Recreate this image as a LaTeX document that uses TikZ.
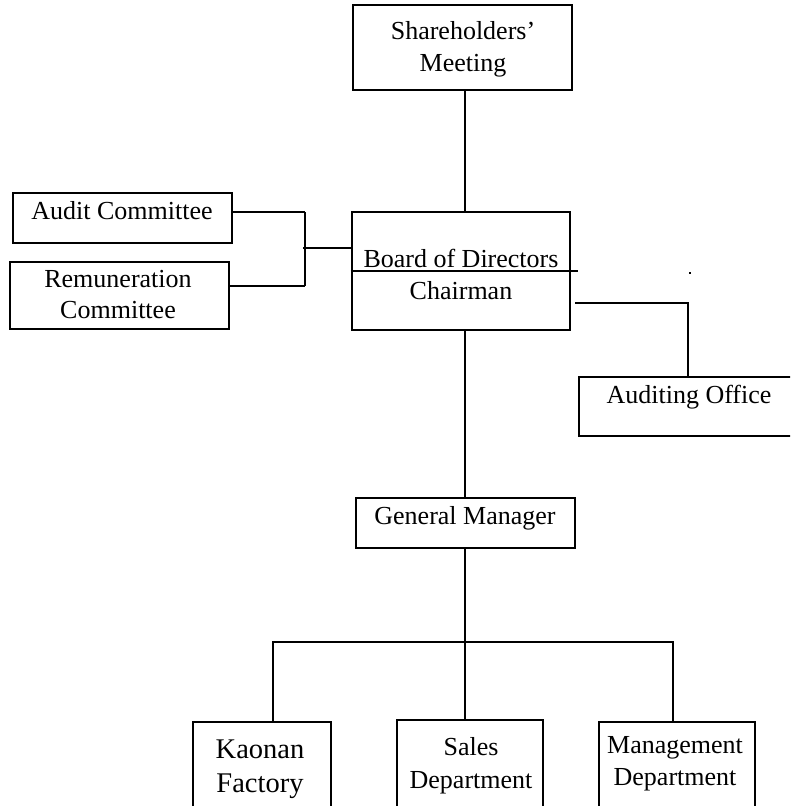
\documentclass[tikz,border=0pt]{standalone}
\usepackage{fontspec}
\setmainfont{Liberation Serif}
\begin{document}
\begin{tikzpicture}[x=1pt,y=-1pt,
  box/.style={draw, line width=2.8pt, rectangle, inner sep=0pt, fill=none},
  txt/.style={anchor=base, inner sep=0pt, font=\fontsize{26}{31}\selectfont},
  bigtxt/.style={anchor=base, inner sep=0pt, font=\fontsize{28.5}{34}\selectfont},
  conn/.style={line width=1.9pt}]
\clip (0,0) rectangle (790,806);
\useasboundingbox (0,0) rectangle (790,806);
\fill[white] (0,0) rectangle (790,806);
% boxes
\node[box, minimum width=219pt, minimum height=85pt] (share) at (462.5,47.5) {};
\node[box, minimum width=218pt, minimum height=118pt] (board) at (461,271) {};
\node[box, minimum width=219pt, minimum height=50pt] (audit) at (122.5,218) {};
\node[box, minimum width=219pt, minimum height=67pt] (remun) at (119.5,295.5) {};
\node[box, minimum width=230pt, minimum height=59pt] (audoff) at (694,406.5) {};
\node[box, minimum width=219pt, minimum height=50pt] (gm) at (465.5,523) {};
\node[box, minimum width=138pt, minimum height=110pt] (kaonan) at (262,777) {};
\node[box, minimum width=146pt, minimum height=114pt] (sales) at (470,777) {};
\node[box, minimum width=156pt, minimum height=110pt] (mgmt) at (677,777) {};
% texts
\node[txt] (t1) at (463,39) {Shareholders’};
\node[txt] (t2) at (463,71) {Meeting};
\node[txt] (t3) at (461,267) {Board of Directors};
\node[txt] (t4) at (461,299) {Chairman};
\node[txt] (t5) at (122,219) {Audit Committee};
\node[txt] (t6) at (118,287) {Remuneration};
\node[txt] (t7) at (118,318) {Committee};
\node[txt] (t8) at (689,403) {Auditing Office};
\node[txt] (t9) at (465,524) {General Manager};
\node[bigtxt] (t10) at (260,758) {Kaonan};
\node[bigtxt] (t11) at (260,792) {Factory};
\node[txt] (t12) at (471,755) {Sales};
\node[txt] (t13) at (471,788) {Department};
\node[txt] (t14) at (675,753) {Management};
\node[txt] (t15) at (675,785) {Department};
% coordinates
\coordinate (spine) at (465,0);
\coordinate (brk) at (305,248);
\coordinate (brkT) at (305,212);
\coordinate (brkB) at (305,286);
\coordinate (busL) at (273,642);
\coordinate (busC) at (465,642);
\coordinate (busR) at (673,642);
\coordinate (bline) at (578,271);
\coordinate (aoStart) at (575,303);
\coordinate (aoCorner) at (688,303);
% connectors
\draw[conn] (share.south -| spine) -- (board.north -| spine);
\draw[conn] (board.south -| spine) -- (gm.north -| spine);
\draw[conn] (gm.south -| spine) -- (busC);
\draw[conn] (kaonan.north -| busL) -- (busL) -- (busR) -- (mgmt.north -| busR);
\draw[conn] (busC) -- (sales.north -| busC);
\draw[conn] (audit.east |- brkT) -- (brkT);
\draw[conn] (remun.east |- brkB) -- (brkB);
\draw[conn] (brkT) -- (brkB);
\draw[conn] ([xshift=-2pt]brk) -- (brk -| board.west);
\draw[conn] (board.west) -- (bline);
\draw[conn] (aoStart) -- (aoCorner) -- (audoff.north -| aoCorner);
\fill (689,272) rectangle (691,274);
\end{tikzpicture}
\end{document}
